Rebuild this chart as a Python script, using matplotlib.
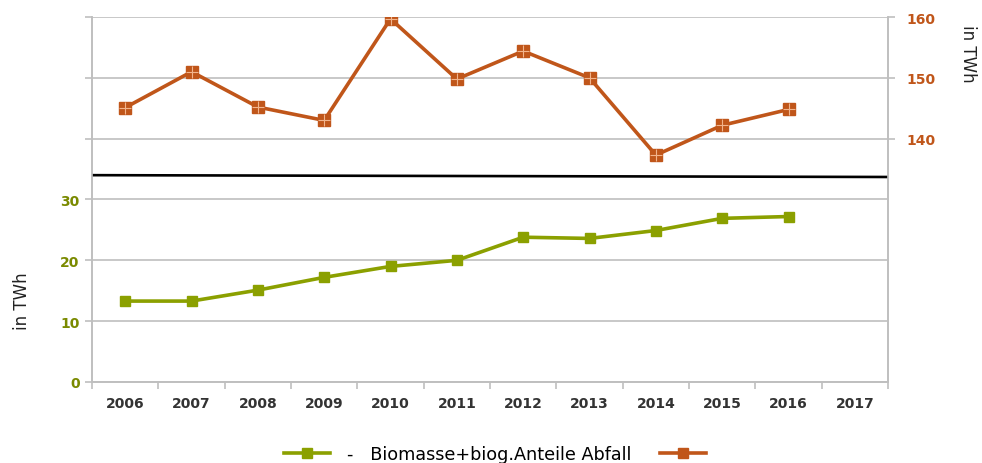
import matplotlib.pyplot as plt
from matplotlib.lines import Line2D

# Jahreswerte in TWh
years = ['2006', '2007', '2008', '2009', '2010', '2011',
         '2012', '2013', '2014', '2015', '2016', '2017']
biomasse = [13.3, 13.3, 15.1, 17.2, 19.0, 20.0, 23.8, 23.6, 24.9, 26.9, 27.2]
gesamt = [145.1, 151.0, 145.2, 143.0, 159.7, 149.8, 154.4, 150.0, 137.3, 142.2, 144.8]
divider = [34.0, 33.7]  # Trennlinie zwischen den beiden Skalen (linke Achse)

green = '#8ba000'
green_txt = '#7a8a00'
orange = '#c0561a'
grid_c = '#bfbfbf'

plt.rcParams['font.family'] = ['DejaVu Sans']

fig = plt.figure(figsize=(9.82, 4.64), dpi=100)
ax = fig.add_axes([0.0937, 0.1746, 0.8106, 0.7866])
ax2 = ax.twinx()

x = list(range(len(years)))

# linke Achse 0..60, rechte Achse 100..160
ax.set_xlim(-0.5, len(years) - 0.5)
ax.set_ylim(0, 60)
ax2.set_ylim(100, 160)

ax.set_yticks(range(0, 61, 10))
ax.set_yticklabels(['0', '10', '20', '30', '', '', ''])
ax2.set_yticks([140, 150, 160])
ax2.set_yticklabels(['140', '150', '160'])

ax.grid(axis='y', color=grid_c, linewidth=1.2)
ax.set_axisbelow(True)

ax.set_xticks([i - 0.5 for i in range(len(years) + 1)], minor=False)
ax.set_xticklabels([])
ax.set_xticks(x, minor=True)
ax.set_xticklabels(years, minor=True, fontsize=10, fontweight='bold', color='#333333')
ax.tick_params(axis='x', which='minor', length=0, pad=10)
ax.tick_params(axis='x', which='major', length=5, color=grid_c, width=1.2)

ax.tick_params(axis='y', length=5, color=grid_c, width=1.2, labelsize=10,
               labelcolor=green_txt, pad=4)
for t in ax.get_yticklabels():
    t.set_fontweight('bold')
ax2.tick_params(axis='y', length=5, color=grid_c, width=1.2, labelsize=10,
                labelcolor=orange, pad=8)
for t in ax2.get_yticklabels():
    t.set_fontweight('bold')

for a in (ax, ax2):
    a.spines['top'].set_visible(False)
    for side in ('left', 'right', 'bottom'):
        a.spines[side].set_color(grid_c)
        a.spines[side].set_linewidth(1.2)

# Trennlinie
ax.plot([-0.5, len(years) - 0.5], divider, color='black', linewidth=1.9, zorder=3)

# Biomasse (linke Achse)
ax.plot(x[:len(biomasse)], biomasse, color=green, linewidth=2.6,
        marker='s', markersize=7, markeredgecolor=green, zorder=4)

# Gesamt (rechte Achse)
ax2.plot(x[:len(gesamt)], gesamt, color=orange, linewidth=2.6,
         marker='s', markersize=8, markeredgecolor=orange, zorder=4)
ax2.plot(x[:len(gesamt)], gesamt, linestyle='none', marker='+', markersize=8,
         markeredgewidth=0.8, color='#f2b48c', zorder=5)

fig.text(0.022, 0.35, 'in TWh', rotation=90, fontsize=12, color='#222222',
         ha='center', va='center')
fig.text(0.986, 0.885, 'in TWh', rotation=270, fontsize=12, color='#222222',
         ha='center', va='center')

# Legende
h1 = Line2D([], [], color=green, linewidth=2.6, marker='s', markersize=7)
h2 = Line2D([], [], color=orange, linewidth=2.6, marker='s', markersize=7)
fig.legend([h1, h2], ['-   Biomasse+biog.Anteile Abfall', ''], loc='center',
           bbox_to_anchor=(0.513, 0.02), ncol=2, frameon=False, fontsize=12.7,
           handlelength=2.6, columnspacing=1.6, handletextpad=1.0)

fig.savefig('out.png', dpi=100)
